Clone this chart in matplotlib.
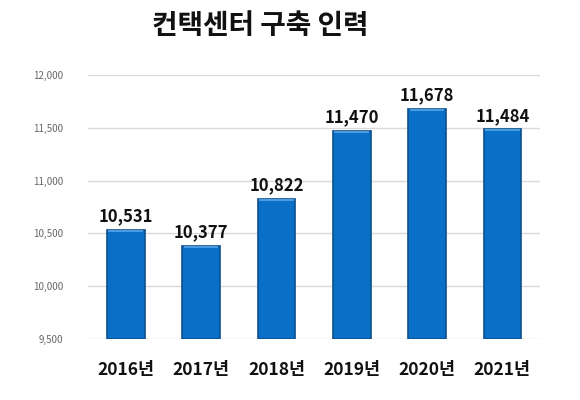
import matplotlib
matplotlib.use('Agg')
import matplotlib.pyplot as plt
import numpy as np

plt.rcParams['font.family'] = ['Noto Sans CJK KR', 'DejaVu Sans']

# data
years = ['2016년', '2017년', '2018년', '2019년', '2020년', '2021년']
staff = [10531, 10377, 10822, 11470, 11678, 11484]
yticks = [9500, 10000, 10500, 11000, 11500, 12000]

fig = plt.figure(figsize=(5.8, 4.0), dpi=100)
ax = fig.add_axes([0.152, 0.1525, 0.779, 0.66])

x = np.arange(len(years))
bars = ax.bar(x, [v - 9500 for v in staff], bottom=9500, width=0.5,
              color='#0a6fc6', edgecolor='#0d4f8c', linewidth=1.2, zorder=3)

# lighter strip on top of each bar
for xi, v in zip(x, staff):
    ax.bar(xi, 18, bottom=v - 18, width=0.46, color='#4a9be0', zorder=4)
    ax.text(xi, v + 45, f'{v:,}', ha='center', va='bottom',
            fontsize=12, fontweight='bold', color='#111111', zorder=5)

ax.set_xlim(-0.5, len(years) - 0.5)
ax.set_ylim(9500, 12000)
ax.set_yticks(yticks)
ax.set_yticklabels([f'{t:,}' for t in yticks], fontsize=7, color='#666666')
ax.set_xticks(x)
ax.set_xticklabels(years, fontsize=12.5, fontweight='bold', color='#111111')
ax.tick_params(axis='both', length=0)
ax.tick_params(axis='x', pad=16)
ax.tick_params(axis='y', pad=18)
ax.grid(axis='y', color='#d9d9d9', linewidth=1, zorder=0)
for s in ax.spines.values():
    s.set_visible(False)

fig.text(0.448, 0.935, '컨택센터 구축 인력', ha='center', va='center',
         fontsize=20, fontweight='bold', color='#111111')

plt.savefig('out.png', dpi=100)
